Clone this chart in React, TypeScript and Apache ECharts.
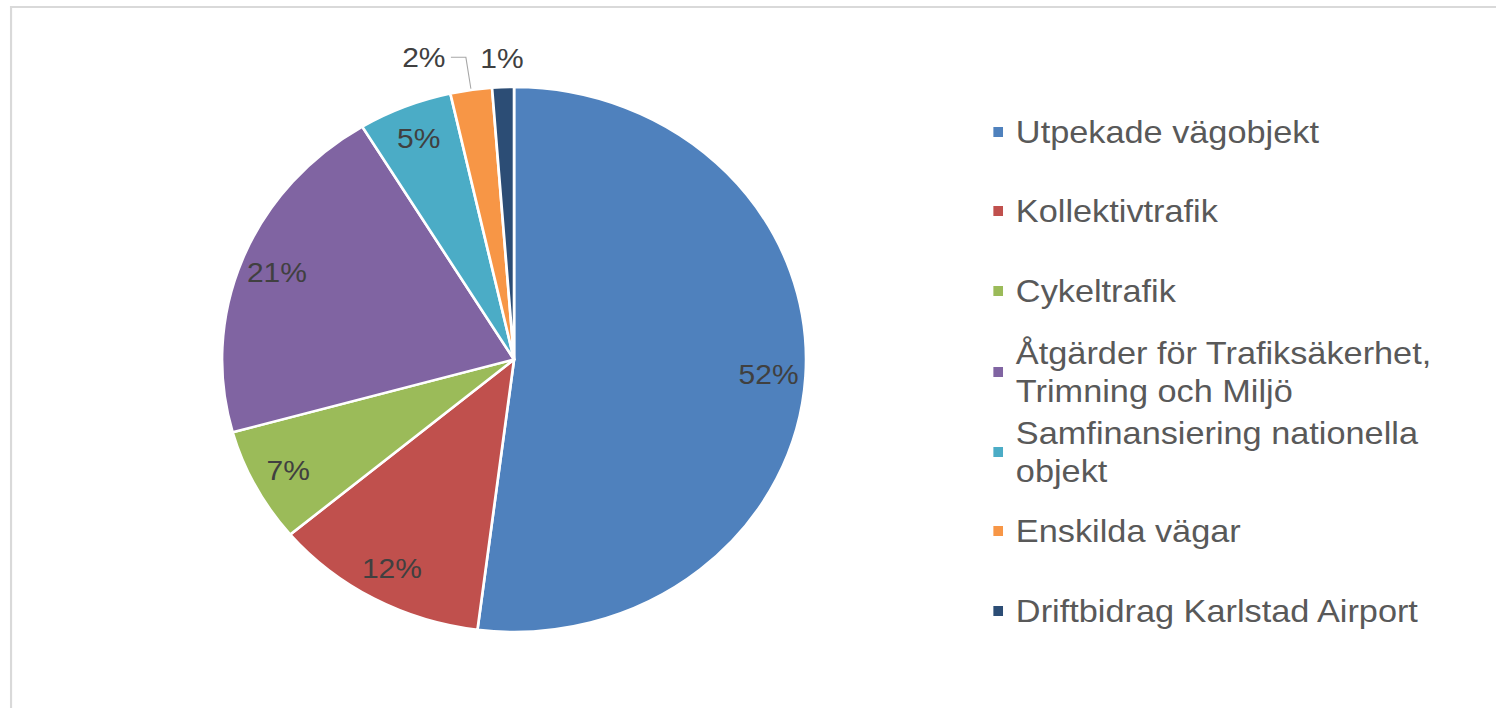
import React, { useEffect, useRef } from "react";
import * as echarts from "echarts";

// ---- data ----
const categories = [
  "Utpekade vägobjekt",
  "Kollektivtrafik",
  "Cykeltrafik",
  "Åtgärder för Trafiksäkerhet, Trimning och Miljö",
  "Samfinansiering nationella objekt",
  "Enskilda vägar",
  "Driftbidrag Karlstad Airport",
];
const legendLabels = [
  "Utpekade vägobjekt",
  "Kollektivtrafik",
  "Cykeltrafik",
  "Åtgärder för Trafiksäkerhet,\nTrimning och Miljö",
  "Samfinansiering nationella\nobjekt",
  "Enskilda vägar",
  "Driftbidrag Karlstad Airport",
];
const shares = [52.0, 11.9, 6.8, 20.6, 5.2, 2.3, 1.2];
const colors = ["#4F81BD", "#C0504D", "#9BBB59", "#8064A2", "#4BACC6", "#F79646", "#2C4D75"];
// where each slice's percentage label goes
const labelPlacement = ["inside", "inside", "inside", "inside", "inside", "leader", "above"];

// ---- layout ----
const STRETCH = 1.0716; // the reference is stretched horizontally
const W = 1396;
const H = 708;
const legendRowCenters = [132, 211, 291, 372, 452, 531, 611];

const FONT = "'Liberation Sans', Arial, Helvetica, sans-serif";
const fmt = (p: any) => Math.round(p.percent) + "%";

export default function App() {
  const ref = useRef<HTMLDivElement>(null);

  useEffect(() => {
    const chart = echarts.init(ref.current!, null, { renderer: "svg" });
    const center = [479.7, 359.5];
    const R = 272.5;
    const clear = "rgba(0,0,0,0)";
    const labelText = { color: "#404040", fontSize: 28, fontFamily: FONT };

    const mainData = categories.map((name, i) => {
      const item: any = { name, value: shares[i], itemStyle: { color: colors[i] } };
      if (labelPlacement[i] === "leader") {
        item.label = { show: true, position: "outside", formatter: fmt, ...labelText };
        item.labelLine = {
          show: true,
          length: 33,
          length2: 14,
          lineStyle: { color: "#a6a6a6", width: 1 },
        };
      }
      return item;
    });

    const labelSeries = (radius: number[], which: string) => ({
      type: "pie",
      center,
      radius,
      startAngle: 90,
      clockwise: true,
      silent: true,
      avoidLabelOverlap: false,
      emphasis: { disabled: true },
      itemStyle: { color: clear, borderWidth: 0 },
      labelLine: { show: false },
      label: { show: true, position: "inside", formatter: fmt, ...labelText },
      data: categories.map((name, i) => ({
        name,
        value: shares[i],
        itemStyle: { color: clear },
        label: { show: labelPlacement[i] === which },
      })),
    });

    const legends = categories.map((name, i) => {
      const twoLine = legendLabels[i].includes("\n");
      return {
        orient: "vertical",
        left: 925,
        top: twoLine ? legendRowCenters[i] - 57 : legendRowCenters[i] - 19,
        padding: 0,
        icon: "rect",
        itemWidth: 11,
        itemHeight: 12,
        selectedMode: false,
        data: [{ name, itemStyle: { color: colors[i] } }],
        formatter: () => legendLabels[i],
        textStyle: {
          color: "#595959",
          fontSize: 32,
          fontFamily: FONT,
          lineHeight: 38,
          padding: twoLine ? [38, 0, 0, 6] : [0, 0, 0, 6],
        },
      };
    });

    chart.setOption({
      animation: false,
      backgroundColor: "#ffffff",
      legend: legends,
      graphic: [
        {
          type: "line",
          silent: true,
          shape: { x1: 9.3, y1: 7, x2: W + 5, y2: 7 },
          style: { stroke: "#d9d9d9", lineWidth: 2 },
        },
        {
          type: "line",
          silent: true,
          shape: { x1: 10.3, y1: 6, x2: 10.3, y2: H + 5 },
          style: { stroke: "#d9d9d9", lineWidth: 2 },
        },
      ],
      series: [
        {
          type: "pie",
          center,
          radius: R,
          startAngle: 90,
          clockwise: true,
          avoidLabelOverlap: false,
          emphasis: { disabled: true },
          itemStyle: { borderColor: "#ffffff", borderWidth: 2.5 },
          label: { show: false, distanceToLabelLine: 5, ...labelText },
          labelLine: { show: false },
          data: mainData,
        },
        labelSeries([200, 270], "inside"),
        labelSeries([288, 308], "above"),
      ],
    });

    return () => chart.dispose();
  }, []);

  return (
    <div
      style={{
        position: "absolute",
        left: 0,
        top: 0,
        width: W * STRETCH,
        height: H,
        overflow: "hidden",
        background: "#fff",
      }}
    >
      <div
        ref={ref}
        style={{
          width: W,
          height: H,
          transform: `scaleX(${STRETCH})`,
          transformOrigin: "0 0",
        }}
      />
    </div>
  );
}
